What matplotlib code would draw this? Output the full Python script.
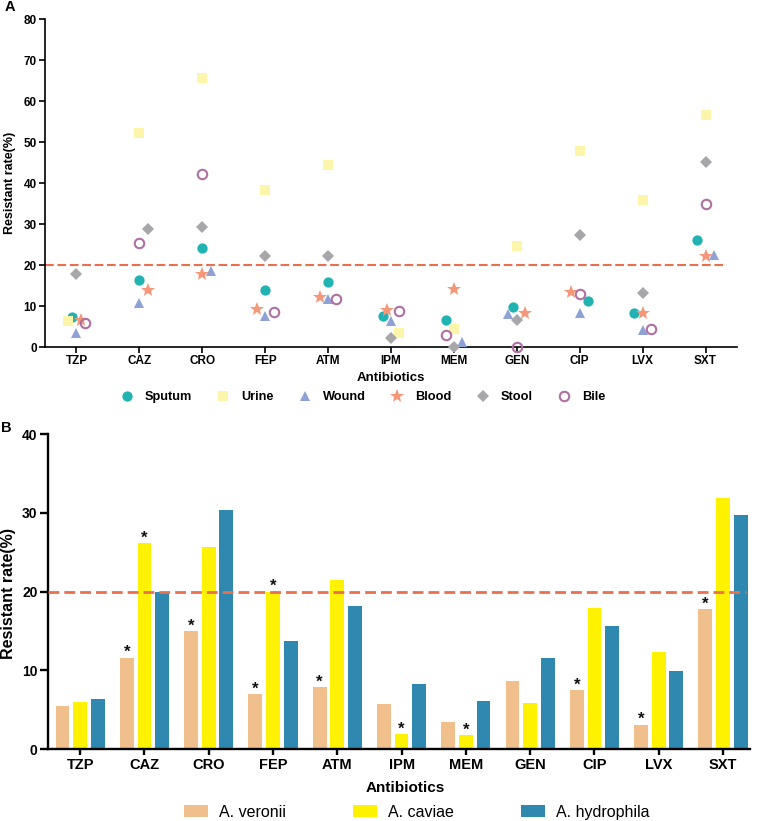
import matplotlib
matplotlib.use("Agg")
import matplotlib.pyplot as plt
from matplotlib.lines import Line2D
from matplotlib.patches import Patch
import numpy as np

plt.rcParams['font.family'] = ['Liberation Sans', 'DejaVu Sans']

# ---------------- data ----------------
categories = ['TZP', 'CAZ', 'CRO', 'FEP', 'ATM', 'IPM', 'MEM', 'GEN', 'CIP', 'LVX', 'SXT']

# Panel A: resistant rate (%) by specimen
sputum = [7.3, 16.4, 24.2, 14.0, 15.8, 7.5, 6.7, 9.7, 11.3, 8.4, 26.2]
urine = [6.3, 52.1, 65.6, 38.3, 44.3, 3.3, 4.3, 24.6, 47.7, 35.9, 56.7]
wound = [3.5, 10.7, 18.5, 7.6, 11.6, 6.3, 1.1, 8.1, 8.3, 4.1, 22.4]
blood = [6.7, 13.9, 17.7, 9.2, 12.1, 9.1, 14.2, 8.4, 13.3, 8.4, 22.2]
stool = [17.7, 28.8, 29.3, 22.1, 22.1, 2.2, 0.0, 6.7, 27.2, 13.2, 45.0]
bile = [5.9, 25.3, 42.1, 8.6, 11.8, 8.7, 3.0, 0.0, 12.9, 4.3, 34.8]

# Panel B: resistant rate (%) by species
veronii = [5.4, 11.6, 15.0, 7.0, 7.9, 5.7, 3.4, 8.6, 7.5, 3.1, 17.8]
caviae = [6.0, 26.1, 25.6, 20.0, 21.5, 1.9, 1.8, 5.8, 17.9, 12.3, 31.9]
hydrophila = [6.3, 19.9, 30.3, 13.7, 18.2, 8.3, 6.1, 11.5, 15.6, 9.9, 29.7]
sig_veronii = [0, 1, 1, 1, 1, 0, 0, 0, 1, 1, 1]
sig_caviae = [0, 1, 0, 1, 0, 1, 1, 0, 0, 0, 0]

threshold = 20

# ---------------- layout / style ----------------
# horizontal dodge of scatter points (in slots) to avoid overlap
dodge = {
    'Sputum': [-0.5, 0, 0, 0, 0, -1, -1, -0.5, 1, -1, -1],
    'Urine':  [-1, 0, 0, 0, 0, 1, 0, 0, 0, 0, 0],
    'Wound':  [0, 0, 1, 0, 0, 0, 1, -1, 0, 0, 1],
    'Blood':  [0.5, 1, 0, -1, -1, -0.5, 0, 1, -1, 0, 0],
    'Stool':  [0, 1, 0, 0, 0, 0, 0, 0, 0, 0, 0],
    'Bile':   [1, 0, 0, 1, 1, 1, -1, 0, 0, 1, 0],
}
slot = 0.1325

series_A = [
    ('Sputum', sputum, dict(marker='o', ms=7.4, mfc='#21b3b1', mec='#21b3b1', mew=0)),
    ('Urine', urine, dict(marker='s', ms=7.2, mfc='#fcf5aa', mec='#fcf5aa', mew=0)),
    ('Wound', wound, dict(marker='^', ms=7.2, mfc='#8ea2d6', mec='#8ea2d6', mew=0)),
    ('Blood', blood, dict(marker='*', ms=10.5, mfc='#f6977a', mec='#f6977a', mew=0)),
    ('Stool', stool, dict(marker='D', ms=6.0, mfc='#a7a7aa', mec='#a7a7aa', mew=0)),
    ('Bile', bile, dict(marker='o', ms=6.8, mfc='none', mec='#b06ea2', mew=1.5)),
]

red = '#e8704f'
c_ver, c_cav, c_hyd = '#f0bf8b', '#fff200', '#2e88b0'

fig = plt.figure(figsize=(7.64, 8.21), dpi=100)
W, H = 764.0, 821.0

# ================= Panel A =================
ax1 = fig.add_axes([45 / W, 1 - 347 / H, 692 / W, 328 / H])
x = np.arange(len(categories))
handles = []
for name, vals, st in series_A:
    xs = x + np.array(dodge[name]) * slot
    ax1.plot(xs, vals, ls='none', clip_on=False, zorder=3, **st)
    handles.append(Line2D([], [], ls='none', label=name, **st))

ax1.axhline(threshold, xmin=0, xmax=0.9855, color=red, lw=1.5, dashes=(4.2, 1.75), zorder=2)
ax1.set_xlim(-0.5, 10.5)
ax1.set_ylim(0, 80)
ax1.set_yticks(np.arange(0, 81, 10))
ax1.set_xticks(x)
ax1.set_xticklabels(categories)
for s in ['top', 'right']:
    ax1.spines[s].set_visible(False)
for s in ['left', 'bottom']:
    ax1.spines[s].set_linewidth(1.2)
ax1.tick_params(axis='both', width=1.2, length=4, labelsize=8.5, pad=2)
for lab in ax1.get_xticklabels() + ax1.get_yticklabels():
    lab.set_fontweight('bold')
ax1.set_ylabel('Resistant rate(%)', fontsize=9, fontweight='bold')
ax1.yaxis.set_label_coords(-0.051, 0.5)
ax1.yaxis.label.set_verticalalignment('center')
ax1.set_xlabel('Antibiotics', fontsize=9.5, fontweight='bold')
ax1.xaxis.set_label_coords(0.5, -0.0945)
ax1.xaxis.label.set_verticalalignment('center')

fig.legend(handles=handles, loc='center left', bbox_to_anchor=(114 / W, 1 - 397 / H),
           ncol=6, frameon=False, borderpad=0, handlelength=1.0, handletextpad=0.9,
           columnspacing=1.95, numpoints=1, prop=dict(size=9.2, weight='bold'))

fig.text(10 / W, 1 - 7 / H, 'A', fontsize=10.5, fontweight='bold', ha='center', va='center')

# ================= Panel B =================
ax2 = fig.add_axes([48 / W, 1 - 749 / H, 702 / W, 315 / H])
bw = 0.215
pitch = 0.274
bars = [(veronii, -pitch, c_ver, 'A. veronii', sig_veronii),
        (caviae, 0.0, c_cav, 'A. caviae', sig_caviae),
        (hydrophila, pitch, c_hyd, 'A. hydrophila', None)]
for vals, off, col, lab, sig in bars:
    ax2.bar(x + off, vals, width=bw, color=col, edgecolor='none', label=lab, zorder=2)
    if sig is not None:
        for i, (v, s) in enumerate(zip(vals, sig)):
            if s:
                ax2.text(x[i] + off, v + 0.05, '*', ha='center', va='baseline',
                         fontsize=12, fontweight='bold', color='#111111', zorder=4)

ax2.axhline(threshold, xmin=0, xmax=0.994, color=red, lw=2.0, dashes=(3.9, 1.8), zorder=3)
ax2.set_xlim(-0.5, 10.42)
ax2.set_ylim(0, 40)
ax2.set_yticks([0, 10, 20, 30, 40])
ax2.set_xticks(x)
ax2.set_xticklabels(categories)
for s in ['top', 'right']:
    ax2.spines[s].set_visible(False)
for s in ['left', 'bottom']:
    ax2.spines[s].set_linewidth(1.7)
ax2.tick_params(axis='x', width=1.7, length=4.5, labelsize=10.5, pad=2)
ax2.tick_params(axis='y', width=1.7, length=6, labelsize=10, pad=1.5)
for lab in ax2.get_xticklabels() + ax2.get_yticklabels():
    lab.set_fontweight('bold')
ax2.set_ylabel('Resistant rate(%)', fontsize=11.5, fontweight='bold')
ax2.yaxis.set_label_coords(-0.0556, 0.495)
ax2.yaxis.label.set_verticalalignment('center')
ax2.set_xlabel('Antibiotics', fontsize=11, fontweight='bold')
ax2.xaxis.set_label_coords(0.509, -0.124)
ax2.xaxis.label.set_verticalalignment('center')

leg_handles = [Patch(facecolor=c_ver, edgecolor='none', label='A. veronii'),
               Patch(facecolor=c_cav, edgecolor='none', label='A. caviae'),
               Patch(facecolor=c_hyd, edgecolor='none', label='A. hydrophila')]
fig.legend(handles=leg_handles, loc='center left', bbox_to_anchor=(176 / W, 1 - 812 / H),
           ncol=3, frameon=False, borderpad=0, handlelength=1.5, handleheight=0.8,
           handletextpad=0.69, columnspacing=4.2, prop=dict(size=11.5))

fig.text(6 / W, 1 - 428 / H, 'B', fontsize=10.5, fontweight='bold', ha='center', va='center')

fig.savefig('out.png', dpi=100)
